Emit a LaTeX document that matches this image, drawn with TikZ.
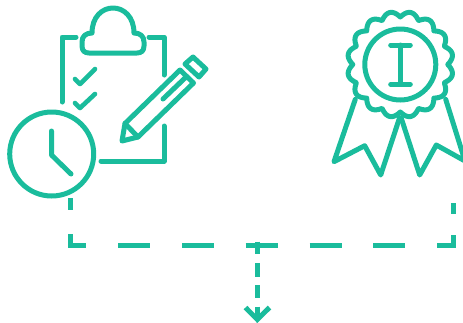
\documentclass[tikz,border=0pt]{standalone}
\definecolor{teal1}{HTML}{1ABC9C}
\tikzset{
  icon/.style={draw=teal1,line width=5pt,line cap=round,line join=round},
  thin icon/.style={icon,line width=4.6pt},
  dashline/.style={draw=teal1,line width=5pt,line cap=butt,line join=miter}
}
\begin{document}
\begin{tikzpicture}[x=1pt,y=-1pt]
\useasboundingbox (0,0) rectangle (463,322);
\clip (0,0) rectangle (463,322);
% clipboard
\draw[icon] (62,102) -- (62,37) -- (76,37);
\draw[icon] (149,37) -- (164,37) -- (164,75);
\draw[icon] (164,126) -- (164,161) -- (101,161);
\draw[icon] (92,33) .. controls (92,17) and (102,8) .. (113,8) .. controls (124,8) and (134,17) .. (134,33)
  .. controls (140,33) and (144,36) .. (144,42) -- (144,46) .. controls (144,51) and (141,53) .. (137,53)
  -- (89,53) .. controls (85,53) and (82,51) .. (82,46) -- (82,42) .. controls (82,36) and (86,33) .. (92,33) -- cycle;
\draw[thin icon] (75,79) -- (80,84) -- (95,69);
\draw[thin icon] (75,103) -- (80,108) -- (95,94);
% pencil
\draw[icon] (122,141) -- (125,123.5) -- (180,70) -- (193.5,83) -- (138,137) -- cycle;
\draw[icon] (125,123.5) -- (138,137);
\draw[icon] (163,99) -- (185,78);
\draw[icon] (193,57) -- (206,69) -- (199,77) -- (185,64) -- cycle;
% clock
\node[circle,draw=teal1,line width=5pt,minimum size=84pt,inner sep=0pt] (clock) at (51.7,154) {};
\draw[icon] (51.5,131) -- (51.5,155) -- (71,174);
% medal
\coordinate (medal) at (400.3,64.5);
\node[circle,draw=teal1,line width=5pt,minimum size=71pt,inner sep=0pt] (seal) at (medal) {};
\draw[icon] plot[domain=0:360,samples=361,smooth] ({400.3+(47.5+5.5*abs(sin(8*\x)))*sin(\x)},{64.5-(47.5+5.5*abs(sin(8*\x)))*cos(\x)}) -- cycle;
\draw[icon] (390.7,45) -- (410.3,45);
\draw[icon] (390.7,84.3) -- (410.3,84.3);
\draw[icon] (400.3,45) -- (400.3,84.3);
\draw[icon] (355.3,99.3) -- (334,161.7) -- (364.7,145.7) -- (380.7,175) -- (399.5,118);
\draw[icon] (401.2,118) -- (419.7,175) -- (436.3,145) -- (465,161) -- (445.7,99.3);
% dashed connector
\coordinate (l1) at (70,198);
\coordinate (l2) at (70,210);
\coordinate (l3) at (70,234);
\coordinate (lc) at (70,245.7);
\coordinate (l4) at (86,245.7);
\coordinate (r1) at (453.3,203.3);
\coordinate (r2) at (453.3,214);
\coordinate (r3) at (453.3,235);
\coordinate (rc) at (453.3,245.7);
\coordinate (r4) at (437.3,245.7);
\draw[dashline] (l1) -- (l2);
\draw[dashline] (l3) -- (lc) -- (l4);
\draw[dashline] (r1) -- (r2);
\draw[dashline] (r3) -- (rc) -- (r4);
\foreach \a/\b in {118/150,182/214,245.7/277.7,309.7/341.7,373.3/405.3}
  \draw[dashline] (\a,245.7) -- (\b,245.7);
\foreach \a/\b in {241.7/254.3,263.3/276.7,285/298.3,306.7/320}
  \draw[dashline] (257.3,\a) -- (257.3,\b);
\coordinate (ha) at (245.5,307.5);
\coordinate (hb) at (257.3,319.5);
\coordinate (hc) at (269.5,307.5);
\draw[dashline] (ha) -- (hb) -- (hc);
\end{tikzpicture}
\end{document}
